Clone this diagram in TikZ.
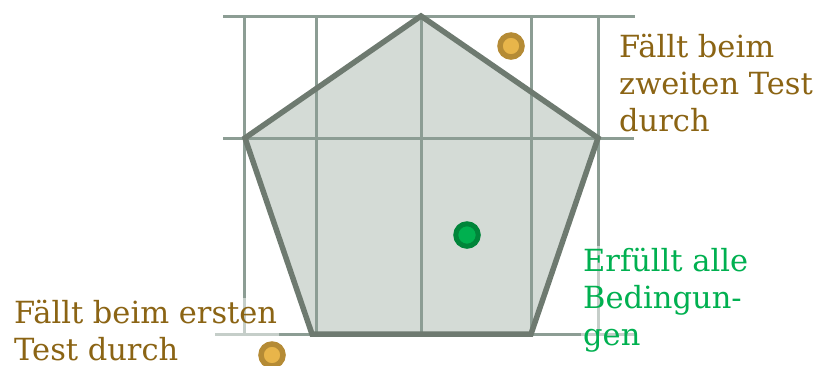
\documentclass[tikz,border=0pt]{standalone}
\usepackage{fontspec}
\setmainfont{DejaVu Serif}
\definecolor{gridc}{RGB}{140,157,148}
\definecolor{pentc}{RGB}{110,122,112}
\definecolor{pentfill}{RGB}{212,219,214}
\definecolor{browntext}{RGB}{139,100,20}
\definecolor{greentext}{RGB}{0,176,80}
\definecolor{goldf}{RGB}{232,181,74}
\definecolor{goldb}{RGB}{181,139,53}
\definecolor{greenf}{RGB}{0,176,79}
\definecolor{greenb}{RGB}{0,133,58}
\begin{document}
\begin{tikzpicture}[x=1pt,y=-1pt,
  gridline/.style={draw=gridc, line width=3pt},
  pentfillst/.style={fill=pentfill},
  pentline/.style={draw=pentc, line width=5.5pt, line join=miter},
  lbl/.style={font=\fontsize{30.5}{37}\selectfont, align=left, inner sep=2pt,
    fill=white, fill opacity=0.5, text opacity=1, anchor=north west},
  golddot/.style={circle, minimum size=22pt, inner sep=0pt, draw=goldb, fill=goldf, line width=5.5pt},
  greendot/.style={circle, minimum size=22.5pt, inner sep=0pt, draw=greenb, fill=greenf, line width=5pt}]
\useasboundingbox (0,0) rectangle (819,365);
% pentagon corners
\coordinate (T) at (421,16);
\coordinate (R) at (598,138);
\coordinate (BR) at (531,334);
\coordinate (BL) at (312,334);
\coordinate (L) at (245,138);
% grid end points
\coordinate (v1a) at (244,16);  \coordinate (v1b) at (244,334);
\coordinate (v2a) at (316,16);  \coordinate (v2b) at (316,334);
\coordinate (v3a) at (421,16);  \coordinate (v3b) at (421,334);
\coordinate (v4a) at (531,16);  \coordinate (v4b) at (531,334);
\coordinate (v5a) at (598,16);  \coordinate (v5b) at (598,334);
\coordinate (h1a) at (223,16);  \coordinate (h1b) at (635,16);
\coordinate (h2a) at (223,138); \coordinate (h2b) at (634,138);
\coordinate (h3a) at (215,334); \coordinate (h3b) at (635,334);
% fill
\path[pentfillst] (T) -- (R) -- (BR) -- (BL) -- (L) -- cycle;
% grid
\foreach \a/\b in {v1a/v1b,v2a/v2b,v3a/v3b,v4a/v4b,v5a/v5b,h1a/h1b,h2a/h2b,h3a/h3b}
  \draw[gridline] (\a) -- (\b);
% outline
\draw[pentline] (T) -- (R) -- (BR) -- (BL) -- (L) -- cycle;
% labels
\node[lbl, text=browntext] (first) at (12,298) {Fällt beim ersten\\Test durch};
\node[lbl, text=browntext] (second) at (617,32) {Fällt beim\\zweiten Test\\durch};
\node[lbl, text=greentext] (all) at (581,246) {Erfüllt alle\\Bedingun-\\gen};
% dots
\node[golddot] (d1) at (511,46) {};
\node[golddot] (d2) at (272,355) {};
\node[greendot] (d3) at (467,235) {};
\end{tikzpicture}
\end{document}
